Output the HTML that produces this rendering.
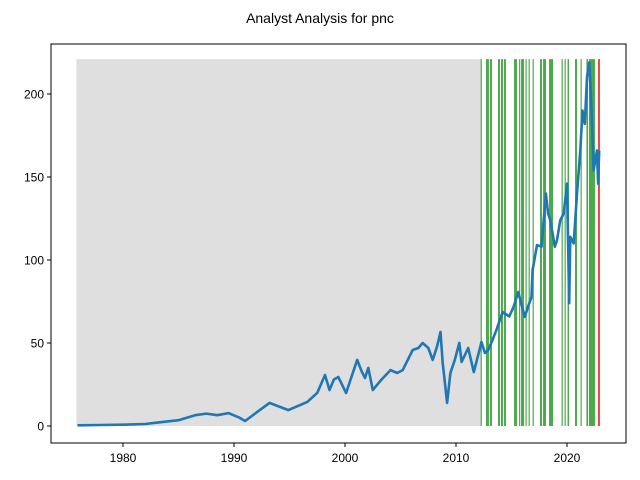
<!DOCTYPE html>
<html><head><meta charset="utf-8"><style>
body{margin:0;background:#fff;}
svg{display:block;font-family:"Liberation Sans","DejaVu Sans",sans-serif;}
</style></head><body>
<svg id="chart" width="640" height="480">
<text x="320" y="23" text-anchor="middle" font-size="14">Analyst Analysis for pnc</text>
<g id="marks"></g>
<rect x="51" y="44" width="575" height="399" fill="none" stroke="#000" stroke-width="1"/>
<g id="axes"></g>
</svg>
<script>
const priceYears=[1975.9,1978,1980,1982,1983,1985,1986.5,1987.5,1988.5,1989.5,1990.5,1991,1992,1993.2,1994.9,1996.6,1997.5,1998.2,1998.6,1999.0,1999.4,2000.1,2000.6,2001.1,2001.5,2001.8,2002.1,2002.5,2003.3,2004.1,2004.7,2005.2,2006.1,2006.6,2007.0,2007.5,2007.9,2008.3,2008.6,2008.8,2009.2,2009.5,2009.9,2010.3,2010.5,2011.1,2011.6,2012.3,2012.6,2012.9,2013.3,2013.7,2014.2,2014.8,2015.2,2015.6,2016.2,2016.5,2016.8,2016.9,2017.3,2017.7,2018.1,2018.3,2018.5,2018.9,2019.1,2019.4,2019.7,2020.0,2020.2,2020.3,2020.6,2020.9,2021.2,2021.4,2021.6,2021.8,2022.0,2022.15,2022.3,2022.4,2022.55,2022.7,2022.8,2022.9];
const priceValues=[0.4,0.6,0.8,1.2,2,3.5,6.5,7.5,6.5,7.8,5,3,8,13.9,9.6,14.5,20,30.7,21.7,28,29.5,19.9,30,39.8,33,28.9,35,21.7,28,33.7,31.9,33.7,45.8,47,50,47,39.8,48,56.6,38,13.9,31.9,40,50,38.6,47,32.5,50.6,44,45.8,52,59,68.7,66,72,80.7,65.7,72,77.7,94,109,108,140,128,124,108,112,124,128,146,74,114,110,140,166,190,182,210,219,200,174,154,160,166,146,166];
const grayStart=1975.8, grayEnd=2012.25, shadeTop=221;
const greenStarts=[2012.22,2012.70,2013.06,2013.78,2014.05,2014.32,2015.23,2015.68,2015.86,2016.26,2016.54,2016.90,2017.57,2017.84,2018.38,2019.51,2019.78,2020.05,2020.72,2021.22,2021.75,2021.98];
const greenEnds=[2012.31,2012.97,2013.24,2013.96,2014.23,2014.50,2015.50,2015.77,2016.13,2016.35,2016.63,2016.99,2017.75,2018.11,2018.74,2019.60,2019.87,2020.18,2020.90,2021.31,2021.90,2022.52];
const redStarts=[2022.79];
const redEnds=[2022.97];
const xTicks=[1980,1990,2000,2010,2020];
const yTicks=[0,50,100,150,200];

const X=y=>123+(y-1980)*11.1;
const Y=v=>426-v*1.66;
const NS='http://www.w3.org/2000/svg';
const marks=document.getElementById('marks'), axes=document.getElementById('axes');
function mk(tag,attrs,parent){const e=document.createElementNS(NS,tag);for(const k in attrs)e.setAttribute(k,attrs[k]);parent.appendChild(e);return e;}

const g=mk('rect',{x:X(grayStart),y:Y(shadeTop),width:X(grayEnd)-X(grayStart),height:Y(0)-Y(shadeTop),fill:'#dfdfdf'},marks);


greenStarts.forEach((s,i)=>{
  const r=mk('rect',{x:X(s),y:Y(shadeTop),width:Math.max(1.2,X(greenEnds[i])-X(s)),height:Y(0)-Y(shadeTop),fill:'#4caa4c'},marks);
  
  
});
redStarts.forEach((s,i)=>{
  const r=mk('rect',{x:X(s),y:Y(shadeTop),width:Math.max(1.2,X(redEnds[i])-X(s)),height:Y(0)-Y(shadeTop),fill:'#f04545'},marks);
  
  
});
const pts=priceYears.map((y,i)=>X(y).toFixed(1)+','+Y(priceValues[i]).toFixed(1)).join(' ');
const pl=mk('polyline',{points:pts,fill:'none',stroke:'#1f77b4','stroke-width':2.6,'stroke-linejoin':'round'},marks);



xTicks.forEach(t=>{
  mk('line',{x1:X(t),x2:X(t),y1:443,y2:447,stroke:'#000'},axes);
  const tx=mk('text',{x:X(t),y:462,'text-anchor':'middle','font-size':12},axes);
  tx.textContent=t;
  
  
});
yTicks.forEach(t=>{
  mk('line',{x1:47,x2:51,y1:Y(t),y2:Y(t),stroke:'#000'},axes);
  const tx=mk('text',{x:44,y:Y(t)+4.5,'text-anchor':'end','font-size':12},axes);
  tx.textContent=t;
  
  
});
</script>
</body></html>
